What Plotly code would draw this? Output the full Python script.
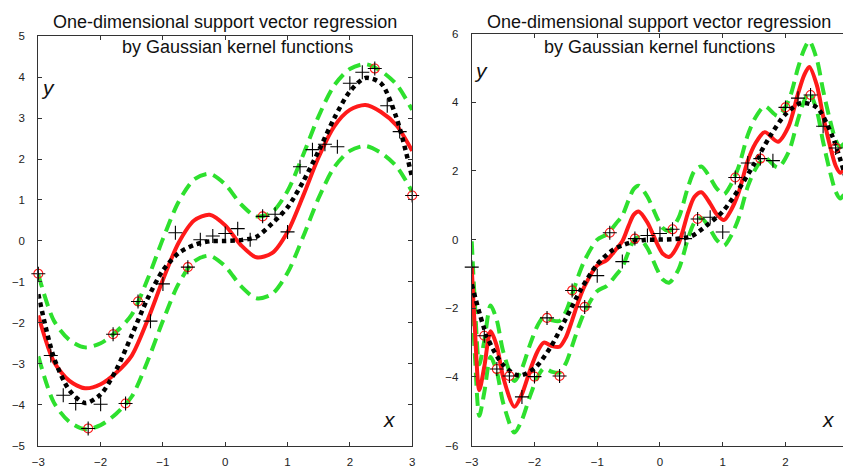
import plotly.graph_objects as go

# ---------------- data ----------------
# training samples (same for both panels)
x_data = [-3.0, -2.8, -2.6, -2.4, -2.2, -2.0, -1.8, -1.6, -1.4, -1.2, -1.0,
          -0.8, -0.6, -0.4, -0.2, 0.0, 0.2, 0.4, 0.6, 0.8, 1.0,
          1.2, 1.4, 1.6, 1.8, 2.0, 2.2, 2.4, 2.6, 2.8, 3.0]
y_data = [-0.8, -2.8, -3.77, -3.97, -4.58, -3.99, -2.28, -3.97, -1.48, -1.96, -1.05,
          0.2, -0.64, 0.03, 0.12, 0.18, 0.3, 0.03, 0.6, 0.65, 0.22,
          1.81, 2.23, 2.36, 2.3, 3.85, 4.12, 4.21, 3.3, 2.67, 1.11]

# support vectors of each panel (x positions)
sv_left_x = [-3.0, -2.2, -1.8, -1.6, -1.4, -0.6, 0.6, 2.4, 3.0]
sv_right_x = [-2.8, -2.6, -2.4, -2.0, -1.8, -1.6, -1.4, -1.2, -0.8, -0.4,
              0.2, 0.6, 1.2, 1.6, 2.0, 2.4, 2.8]

# true function (black dotted)
x_true = [-3.0, -2.75, -2.5, -2.25, -2.0, -1.75, -1.5, -1.25, -1.0, -0.75, -0.5, -0.25,
          0.0, 0.25, 0.5, 0.75, 1.0, 1.25, 1.5, 1.75, 2.0, 2.25, 2.5, 2.75, 3.0]
y_true = [-1.3, -2.85, -3.65, -3.96, -3.75, -3.15, -2.3, -1.42, -0.72, -0.3, -0.1, -0.01,
          0.0, 0.02, 0.1, 0.42, 0.82, 1.45, 2.2, 3.0, 3.65, 3.98, 3.85, 3.0, 1.55]

# left panel SVR fit (red) and tube half-width
x_fit_left = [-3.0, -2.75, -2.5, -2.25, -2.0, -1.75, -1.5, -1.25, -1.0, -0.75, -0.5, -0.25,
              0.0, 0.25, 0.5, 0.75, 1.0, 1.25, 1.5, 1.75, 2.0, 2.25, 2.5, 2.75, 3.0]
y_fit_left = [-1.82, -2.95, -3.42, -3.6, -3.5, -3.22, -2.8, -1.95, -0.95, -0.05, 0.5, 0.64,
              0.38, -0.1, -0.4, -0.3, 0.22, 1.1, 2.05, 2.8, 3.2, 3.32, 3.15, 2.82, 2.2]
eps_left = 1.0

# right panel SVR fit (red) and tube half-width
x_fit_right = [-3.0, -2.95, -2.88, -2.8, -2.7, -2.6, -2.5, -2.32, -2.2, -2.07, -1.95, -1.85,
               -1.72, -1.6, -1.5, -1.4, -1.3, -1.2, -1.0, -0.85, -0.7, -0.6, -0.5, -0.42,
               -0.34, -0.2, -0.05, 0.05, 0.15, 0.3, 0.45, 0.55, 0.66, 0.8, 0.9, 1.02,
               1.13, 1.25, 1.4, 1.52, 1.67, 1.88, 2.05, 2.2, 2.3, 2.38, 2.5, 2.6, 2.7, 2.8,
               2.87, 2.95, 3.0]
y_fit_right = [-0.8, -2.6, -4.38, -3.7, -2.67, -3.1, -4.0, -4.87, -4.5, -3.8, -3.25, -3.0,
               -3.1, -3.12, -2.85, -2.35, -1.8, -1.35, -0.75, -0.6, -0.28, -0.05, 0.4, 0.72,
               0.82, 0.5, -0.1, -0.42, -0.5, -0.1, 0.8, 1.25, 1.38, 1.05, 0.75, 0.57,
               0.85, 1.35, 2.3, 2.8, 3.13, 2.85, 3.3, 4.25, 4.8, 5.03, 4.5, 3.6, 2.8, 2.15,
               1.95, 2.1, 2.3]
eps_right = 0.75

# ---------------- styling ----------------
RED = "#ff1a1a"
GREEN = "#2ee02e"
FONT = "Liberation Sans, Arial, sans-serif"

fig = go.Figure()


def add_panel(xa, ya, x_fit, y_fit, eps, sv_x):
    up = [v + eps for v in y_fit]
    lo = [v - eps for v in y_fit]
    common = dict(xaxis=xa, yaxis=ya, mode="lines", showlegend=False, hoverinfo="skip")
    for yy in (up, lo):
        fig.add_trace(go.Scatter(x=x_fit, y=yy, line=dict(color=GREEN, width=4, dash="13px,7px",
                                                          shape="spline", smoothing=0.8), **common))
    fig.add_trace(go.Scatter(x=x_fit, y=y_fit, line=dict(color=RED, width=4, shape="spline",
                                                         smoothing=0.8), **common))
    fig.add_trace(go.Scatter(x=x_true, y=y_true, line=dict(color="black", width=4.5,
                                                           dash="4.5px,4px", shape="spline",
                                                           smoothing=0.8), **common))
    sv_y = [y_data[x_data.index(v)] for v in sv_x]
    fig.add_trace(go.Scatter(x=sv_x, y=sv_y, xaxis=xa, yaxis=ya, mode="markers",
                             marker=dict(symbol="circle-open", size=9, color=RED,
                                         line=dict(width=1.1, color=RED)),
                             cliponaxis=False, showlegend=False))
    fig.add_trace(go.Scatter(x=x_data, y=y_data, xaxis=xa, yaxis=ya, mode="markers",
                             marker=dict(symbol="cross-thin", size=10,
                                         line=dict(width=1.1, color="black")),
                             cliponaxis=False, showlegend=False))


add_panel("x", "y", x_fit_left, y_fit_left, eps_left, sv_left_x)
add_panel("x2", "y2", x_fit_right, y_fit_right, eps_right, sv_right_x)

W, H = 846, 476
axis_common = dict(showgrid=False, zeroline=False, showline=True, linecolor="#333",
                   linewidth=1, ticks="inside", ticklen=4, tickcolor="#333",
                   tickfont=dict(family=FONT, size=11.5, color="#222"))

fig.update_layout(
    width=W, height=H, margin=dict(l=0, r=0, t=0, b=0),
    paper_bgcolor="white", plot_bgcolor="white", showlegend=False,
    xaxis=dict(domain=[31.7 / W, 410 / W], range=[-3, 3], tickvals=[-3, -2, -1, 0, 1, 2, 3],
               mirror="ticks", anchor="y", ticklabelstandoff=6, **axis_common),
    yaxis=dict(domain=[(H - 451) / H, (H - 31) / H], range=[-5, 5], dtick=1,
               mirror="ticks", anchor="x", ticklabelstandoff=10, **axis_common),
    xaxis2=dict(domain=[470.3 / W, 1.0], range=[-3, 2.917], tickvals=[-3, -2, -1, 0, 1, 2],
                mirror="ticks", anchor="y2", ticklabelstandoff=6, **axis_common),
    yaxis2=dict(domain=[(H - 451) / H, (H - 28.3) / H], range=[-6, 6], dtick=2,
                mirror=False, anchor="x2", ticklabelstandoff=10, **axis_common),
)

title1 = "One-dimensional support vector regression"
title2 = "by Gaussian kernel functions"
tfont = dict(family=FONT, size=18, color="#111")
for (cx1, cx2) in ((221, 233.5), (660, 660)):
    fig.add_annotation(text=title1, x=cx1 / W, y=(H - 16) / H, xref="paper", yref="paper",
                       showarrow=False, font=tfont, xanchor="center", yanchor="middle")
    fig.add_annotation(text=title2, x=cx2 / W, y=(H - 42) / H, xref="paper", yref="paper",
                       showarrow=False, font=tfont, xanchor="center", yanchor="middle")

lfont = dict(family=FONT, size=21, color="#111")
for (t, px, py) in (("y", 41.7, 84), ("x", 386.7, 424), ("y", 479.3, 66), ("x", 831, 424)):
    fig.add_annotation(text="<i>%s</i>" % t, x=px / W, y=(H - py) / H, xref="paper",
                       yref="paper", showarrow=False, font=lfont,
                       xanchor="center", yanchor="middle")

fig.write_html("out.html", config={"displayModeBar": False},
               post_script="document.body.style.margin='0px';")
